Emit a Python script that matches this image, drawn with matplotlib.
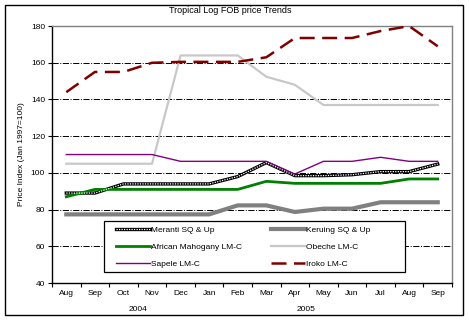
import matplotlib.pyplot as plt
from matplotlib.patches import Rectangle

plt.rcParams['font.family'] = ['Liberation Sans', 'DejaVu Sans']

# Monthly FOB price index values (Jan 1997 = 100), Aug 2004 - Sep 2005
months = ["Aug", "Sep", "Oct", "Nov", "Dec", "Jan", "Feb",
          "Mar", "Apr", "May", "Jun", "Jul", "Aug", "Sep"]
meranti = [89, 89, 94, 94, 94, 94, 98, 105.6, 98.5, 98.5, 99, 100.7, 100.7, 104.8]
keruing = [77.4, 77.4, 77.4, 77.4, 77.4, 77.4, 82.3, 82.3, 78.7, 80.5, 80.5, 84, 84, 84]
mahogany = [87, 91, 91, 91, 91, 91, 91, 95.4, 94.3, 94.3, 94.3, 94.3, 96.7, 96.7]
obeche = [105, 105, 105, 105, 164, 164, 164, 152.4, 148, 137, 137, 137, 137, 137]
sapele = [110, 110, 110, 110, 106.3, 106.3, 106.3, 106.3, 99.4, 106.3, 106.3, 108.5, 106.3, 106.3]
iroko = [144, 155, 155, 160, 160.5, 160.5, 160.5, 163, 173.5, 173.5, 173.5, 177.3, 180, 169]
years = ["2004", "2005"]

x = list(range(len(months)))

fig = plt.figure(figsize=(4.69, 3.22), dpi=100)
ax = fig.add_axes([0.1109, 0.1211, 0.8529, 0.7979])

# outer chart frame
fig.patches.append(Rectangle((0.0107, 0.0217), 0.9765, 0.963, transform=fig.transFigure,
                             fill=False, edgecolor='black', linewidth=1.0))

for yv in [60, 80, 100, 120, 140, 160]:
    ax.axhline(yv, color='black', linestyle='-.', linewidth=0.7, zorder=1)

m1, = ax.plot(x, meranti, color='black', linewidth=2.4, zorder=3)
m2, = ax.plot(x, meranti, color='white', linewidth=0.9, linestyle=(0, (1, 1)), zorder=4)
k, = ax.plot(x, keruing, color='#808080', linewidth=3, zorder=3)
a, = ax.plot(x, mahogany, color='#008000', linewidth=2, zorder=3)
o, = ax.plot(x, obeche, color='#c8c8c8', linewidth=1.6, zorder=3)
s, = ax.plot(x, sapele, color='#800080', linewidth=1, zorder=3)
i, = ax.plot(x, iroko, color='#800000', linewidth=1.8, dashes=(6, 3), zorder=3)

ax.set_xlim(-0.5, len(months) - 0.5)
ax.set_ylim(40, 180)
ax.set_yticks(range(40, 181, 20))
ax.tick_params(axis='y', labelsize=6, length=3, pad=2)
ax.set_xticks([v - 0.5 for v in range(len(months) + 1)])
ax.set_xticklabels([])
ax.set_xticks(x, minor=True)
ax.set_xticklabels(months, minor=True)
ax.tick_params(axis='x', which='major', length=3, direction='out')
ax.tick_params(axis='x', which='minor', length=0, labelsize=6, pad=5)

ax.spines['top'].set_color('#808080')
ax.spines['right'].set_color('#808080')
for sp in ax.spines.values():
    sp.set_linewidth(1.0)

ax.text(2.5, -0.09, years[0], transform=ax.get_xaxis_transform(),
        ha='center', va='top', fontsize=6)
ax.text(8.4, -0.09, years[1], transform=ax.get_xaxis_transform(),
        ha='center', va='top', fontsize=6)

ax.set_ylabel("Price Index (Jan 1997=100)", fontsize=6, labelpad=4)
fig.text(0.49, 0.966, "Tropical Log FOB price Trends", ha='center', va='center', fontsize=6.5)

# legend box drawn separately so it can be wider than its entries
ax.add_patch(Rectangle((0.13, 0.043), 0.7525, 0.198, transform=ax.transAxes,
                       facecolor='white', edgecolor='black', linewidth=0.9, zorder=5))
leg = ax.legend([(m1, m2), a, s, k, o, i],
                ["Meranti SQ & Up", "African Mahogany LM-C", "Sapele LM-C",
                 "Keruing SQ & Up", "Obeche LM-C", "Iroko LM-C"],
                ncol=2, loc='upper left', bbox_to_anchor=(0.16, 0.22),
                fontsize=6, frameon=False, handlelength=4.1, handletextpad=0.15,
                borderpad=0, borderaxespad=0, labelspacing=1.1, columnspacing=3.4)
leg.set_zorder(6)

fig.savefig("out.png", dpi=100)
